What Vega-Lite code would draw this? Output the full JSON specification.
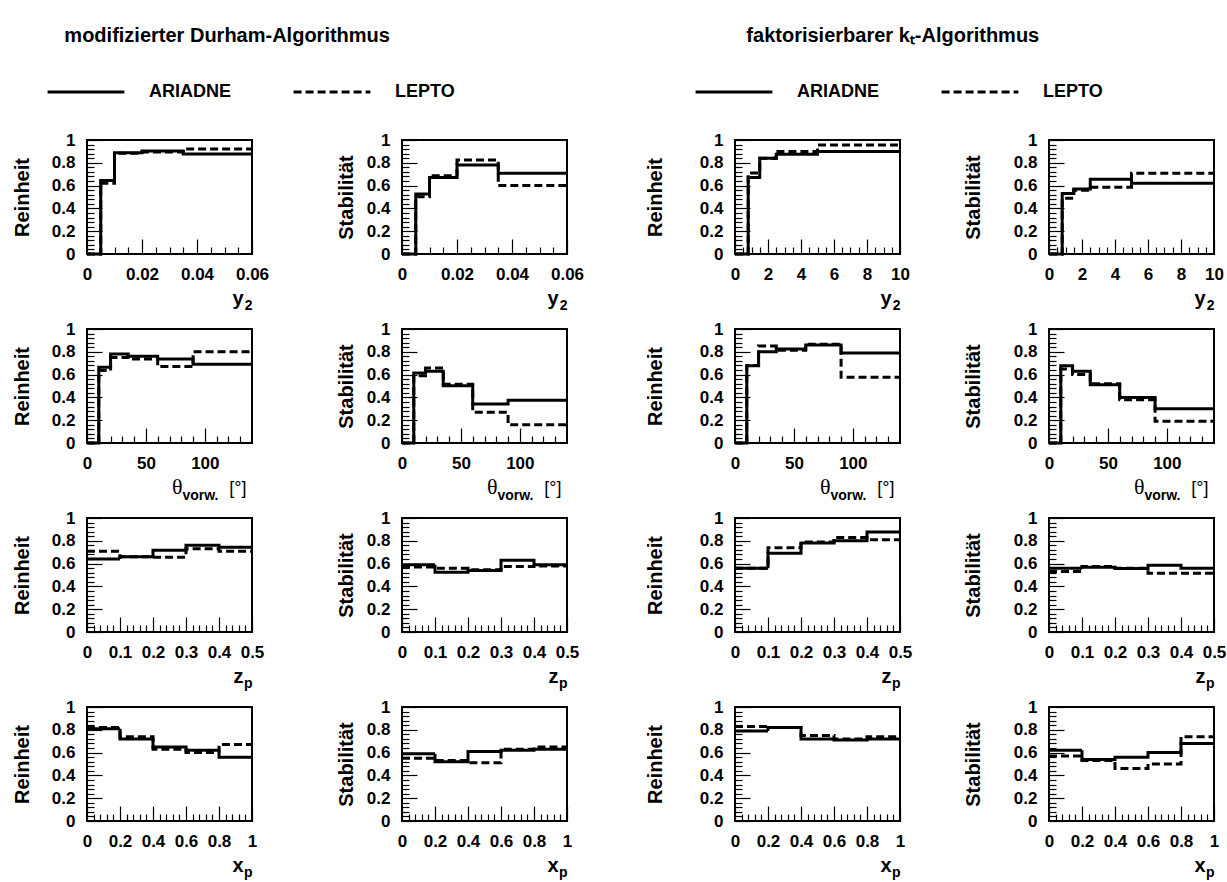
{
  "$schema": "https://vega.github.io/schema/vega-lite/v6.json",
  "padding": {"left": 11, "top": 26, "right": 4, "bottom": 0},
  "background": "white",
  "datasets": {
    "h": [
      {"p":"D_y2_R","g":"ARIADNE","x":0,"y":0},{"p":"D_y2_R","g":"ARIADNE","x":0.005,"y":0.645},{"p":"D_y2_R","g":"ARIADNE","x":0.01,"y":0.889},{"p":"D_y2_R","g":"ARIADNE","x":0.02,"y":0.903},{"p":"D_y2_R","g":"ARIADNE","x":0.035,"y":0.877},{"p":"D_y2_R","g":"ARIADNE","x":0.06,"y":0.877},
      {"p":"D_y2_R","g":"LEPTO","x":0,"y":0},{"p":"D_y2_R","g":"LEPTO","x":0.005,"y":0.62},{"p":"D_y2_R","g":"LEPTO","x":0.01,"y":0.883},{"p":"D_y2_R","g":"LEPTO","x":0.02,"y":0.895},{"p":"D_y2_R","g":"LEPTO","x":0.035,"y":0.92},{"p":"D_y2_R","g":"LEPTO","x":0.06,"y":0.92},
      {"p":"D_y2_S","g":"ARIADNE","x":0,"y":0},{"p":"D_y2_S","g":"ARIADNE","x":0.005,"y":0.526},{"p":"D_y2_S","g":"ARIADNE","x":0.01,"y":0.67},{"p":"D_y2_S","g":"ARIADNE","x":0.02,"y":0.78},{"p":"D_y2_S","g":"ARIADNE","x":0.035,"y":0.708},{"p":"D_y2_S","g":"ARIADNE","x":0.06,"y":0.708},
      {"p":"D_y2_S","g":"LEPTO","x":0,"y":0},{"p":"D_y2_S","g":"LEPTO","x":0.005,"y":0.503},{"p":"D_y2_S","g":"LEPTO","x":0.01,"y":0.687},{"p":"D_y2_S","g":"LEPTO","x":0.02,"y":0.825},{"p":"D_y2_S","g":"LEPTO","x":0.035,"y":0.6},{"p":"D_y2_S","g":"LEPTO","x":0.06,"y":0.6},
      {"p":"K_y2_R","g":"ARIADNE","x":0,"y":0},{"p":"K_y2_R","g":"ARIADNE","x":0.8,"y":0.67},{"p":"K_y2_R","g":"ARIADNE","x":1.5,"y":0.84},{"p":"K_y2_R","g":"ARIADNE","x":2.5,"y":0.874},{"p":"K_y2_R","g":"ARIADNE","x":5,"y":0.9},{"p":"K_y2_R","g":"ARIADNE","x":10,"y":0.9},
      {"p":"K_y2_R","g":"LEPTO","x":0,"y":0},{"p":"K_y2_R","g":"LEPTO","x":0.8,"y":0.71},{"p":"K_y2_R","g":"LEPTO","x":1.5,"y":0.84},{"p":"K_y2_R","g":"LEPTO","x":2.5,"y":0.9},{"p":"K_y2_R","g":"LEPTO","x":5,"y":0.956},{"p":"K_y2_R","g":"LEPTO","x":10,"y":0.956},
      {"p":"K_y2_S","g":"ARIADNE","x":0,"y":0},{"p":"K_y2_S","g":"ARIADNE","x":0.8,"y":0.53},{"p":"K_y2_S","g":"ARIADNE","x":1.5,"y":0.57},{"p":"K_y2_S","g":"ARIADNE","x":2.5,"y":0.655},{"p":"K_y2_S","g":"ARIADNE","x":5,"y":0.62},{"p":"K_y2_S","g":"ARIADNE","x":10,"y":0.62},
      {"p":"K_y2_S","g":"LEPTO","x":0,"y":0},{"p":"K_y2_S","g":"LEPTO","x":0.8,"y":0.49},{"p":"K_y2_S","g":"LEPTO","x":1.5,"y":0.56},{"p":"K_y2_S","g":"LEPTO","x":2.5,"y":0.585},{"p":"K_y2_S","g":"LEPTO","x":5,"y":0.708},{"p":"K_y2_S","g":"LEPTO","x":10,"y":0.708},
      {"p":"D_th_R","g":"ARIADNE","x":0,"y":0},{"p":"D_th_R","g":"ARIADNE","x":10,"y":0.664},{"p":"D_th_R","g":"ARIADNE","x":20,"y":0.78},{"p":"D_th_R","g":"ARIADNE","x":35,"y":0.76},{"p":"D_th_R","g":"ARIADNE","x":60,"y":0.737},{"p":"D_th_R","g":"ARIADNE","x":90,"y":0.69},{"p":"D_th_R","g":"ARIADNE","x":140,"y":0.69},
      {"p":"D_th_R","g":"LEPTO","x":0,"y":0},{"p":"D_th_R","g":"LEPTO","x":10,"y":0.635},{"p":"D_th_R","g":"LEPTO","x":20,"y":0.75},{"p":"D_th_R","g":"LEPTO","x":35,"y":0.737},{"p":"D_th_R","g":"LEPTO","x":60,"y":0.67},{"p":"D_th_R","g":"LEPTO","x":90,"y":0.8},{"p":"D_th_R","g":"LEPTO","x":140,"y":0.8},
      {"p":"D_th_S","g":"ARIADNE","x":0,"y":0},{"p":"D_th_S","g":"ARIADNE","x":10,"y":0.614},{"p":"D_th_S","g":"ARIADNE","x":20,"y":0.63},{"p":"D_th_S","g":"ARIADNE","x":35,"y":0.503},{"p":"D_th_S","g":"ARIADNE","x":60,"y":0.342},{"p":"D_th_S","g":"ARIADNE","x":90,"y":0.374},{"p":"D_th_S","g":"ARIADNE","x":140,"y":0.374},
      {"p":"D_th_S","g":"LEPTO","x":0,"y":0},{"p":"D_th_S","g":"LEPTO","x":10,"y":0.59},{"p":"D_th_S","g":"LEPTO","x":20,"y":0.658},{"p":"D_th_S","g":"LEPTO","x":35,"y":0.515},{"p":"D_th_S","g":"LEPTO","x":60,"y":0.27},{"p":"D_th_S","g":"LEPTO","x":90,"y":0.16},{"p":"D_th_S","g":"LEPTO","x":140,"y":0.16},
      {"p":"K_th_R","g":"ARIADNE","x":0,"y":0},{"p":"K_th_R","g":"ARIADNE","x":10,"y":0.678},{"p":"K_th_R","g":"ARIADNE","x":20,"y":0.8},{"p":"K_th_R","g":"ARIADNE","x":35,"y":0.825},{"p":"K_th_R","g":"ARIADNE","x":60,"y":0.86},{"p":"K_th_R","g":"ARIADNE","x":90,"y":0.79},{"p":"K_th_R","g":"ARIADNE","x":140,"y":0.79},
      {"p":"K_th_R","g":"LEPTO","x":0,"y":0},{"p":"K_th_R","g":"LEPTO","x":10,"y":0.68},{"p":"K_th_R","g":"LEPTO","x":20,"y":0.85},{"p":"K_th_R","g":"LEPTO","x":35,"y":0.813},{"p":"K_th_R","g":"LEPTO","x":60,"y":0.867},{"p":"K_th_R","g":"LEPTO","x":90,"y":0.576},{"p":"K_th_R","g":"LEPTO","x":140,"y":0.576},
      {"p":"K_th_S","g":"ARIADNE","x":0,"y":0},{"p":"K_th_S","g":"ARIADNE","x":10,"y":0.678},{"p":"K_th_S","g":"ARIADNE","x":20,"y":0.63},{"p":"K_th_S","g":"ARIADNE","x":35,"y":0.51},{"p":"K_th_S","g":"ARIADNE","x":60,"y":0.4},{"p":"K_th_S","g":"ARIADNE","x":90,"y":0.3},{"p":"K_th_S","g":"ARIADNE","x":140,"y":0.3},
      {"p":"K_th_S","g":"LEPTO","x":0,"y":0},{"p":"K_th_S","g":"LEPTO","x":10,"y":0.65},{"p":"K_th_S","g":"LEPTO","x":20,"y":0.6},{"p":"K_th_S","g":"LEPTO","x":35,"y":0.52},{"p":"K_th_S","g":"LEPTO","x":60,"y":0.38},{"p":"K_th_S","g":"LEPTO","x":90,"y":0.19},{"p":"K_th_S","g":"LEPTO","x":140,"y":0.19},
      {"p":"D_zp_R","g":"ARIADNE","x":0,"y":0.64},{"p":"D_zp_R","g":"ARIADNE","x":0.1,"y":0.66},{"p":"D_zp_R","g":"ARIADNE","x":0.2,"y":0.717},{"p":"D_zp_R","g":"ARIADNE","x":0.3,"y":0.76},{"p":"D_zp_R","g":"ARIADNE","x":0.4,"y":0.743},{"p":"D_zp_R","g":"ARIADNE","x":0.5,"y":0.743},
      {"p":"D_zp_R","g":"LEPTO","x":0,"y":0.708},{"p":"D_zp_R","g":"LEPTO","x":0.1,"y":0.66},{"p":"D_zp_R","g":"LEPTO","x":0.2,"y":0.656},{"p":"D_zp_R","g":"LEPTO","x":0.3,"y":0.73},{"p":"D_zp_R","g":"LEPTO","x":0.4,"y":0.708},{"p":"D_zp_R","g":"LEPTO","x":0.5,"y":0.708},
      {"p":"D_zp_S","g":"ARIADNE","x":0,"y":0.59},{"p":"D_zp_S","g":"ARIADNE","x":0.1,"y":0.524},{"p":"D_zp_S","g":"ARIADNE","x":0.2,"y":0.54},{"p":"D_zp_S","g":"ARIADNE","x":0.3,"y":0.63},{"p":"D_zp_S","g":"ARIADNE","x":0.4,"y":0.59},{"p":"D_zp_S","g":"ARIADNE","x":0.5,"y":0.59},
      {"p":"D_zp_S","g":"LEPTO","x":0,"y":0.57},{"p":"D_zp_S","g":"LEPTO","x":0.1,"y":0.56},{"p":"D_zp_S","g":"LEPTO","x":0.2,"y":0.545},{"p":"D_zp_S","g":"LEPTO","x":0.3,"y":0.574},{"p":"D_zp_S","g":"LEPTO","x":0.4,"y":0.58},{"p":"D_zp_S","g":"LEPTO","x":0.5,"y":0.58},
      {"p":"K_zp_R","g":"ARIADNE","x":0,"y":0.56},{"p":"K_zp_R","g":"ARIADNE","x":0.1,"y":0.69},{"p":"K_zp_R","g":"ARIADNE","x":0.2,"y":0.78},{"p":"K_zp_R","g":"ARIADNE","x":0.3,"y":0.8},{"p":"K_zp_R","g":"ARIADNE","x":0.4,"y":0.877},{"p":"K_zp_R","g":"ARIADNE","x":0.5,"y":0.877},
      {"p":"K_zp_R","g":"LEPTO","x":0,"y":0.56},{"p":"K_zp_R","g":"LEPTO","x":0.1,"y":0.74},{"p":"K_zp_R","g":"LEPTO","x":0.2,"y":0.79},{"p":"K_zp_R","g":"LEPTO","x":0.3,"y":0.83},{"p":"K_zp_R","g":"LEPTO","x":0.4,"y":0.81},{"p":"K_zp_R","g":"LEPTO","x":0.5,"y":0.81},
      {"p":"K_zp_S","g":"ARIADNE","x":0,"y":0.56},{"p":"K_zp_S","g":"ARIADNE","x":0.1,"y":0.567},{"p":"K_zp_S","g":"ARIADNE","x":0.2,"y":0.556},{"p":"K_zp_S","g":"ARIADNE","x":0.3,"y":0.585},{"p":"K_zp_S","g":"ARIADNE","x":0.4,"y":0.56},{"p":"K_zp_S","g":"ARIADNE","x":0.5,"y":0.56},
      {"p":"K_zp_S","g":"LEPTO","x":0,"y":0.53},{"p":"K_zp_S","g":"LEPTO","x":0.1,"y":0.575},{"p":"K_zp_S","g":"LEPTO","x":0.2,"y":0.56},{"p":"K_zp_S","g":"LEPTO","x":0.3,"y":0.515},{"p":"K_zp_S","g":"LEPTO","x":0.4,"y":0.515},{"p":"K_zp_S","g":"LEPTO","x":0.5,"y":0.515},
      {"p":"D_xp_R","g":"ARIADNE","x":0,"y":0.81},{"p":"D_xp_R","g":"ARIADNE","x":0.2,"y":0.72},{"p":"D_xp_R","g":"ARIADNE","x":0.4,"y":0.65},{"p":"D_xp_R","g":"ARIADNE","x":0.6,"y":0.62},{"p":"D_xp_R","g":"ARIADNE","x":0.8,"y":0.56},{"p":"D_xp_R","g":"ARIADNE","x":1,"y":0.56},
      {"p":"D_xp_R","g":"LEPTO","x":0,"y":0.82},{"p":"D_xp_R","g":"LEPTO","x":0.2,"y":0.74},{"p":"D_xp_R","g":"LEPTO","x":0.4,"y":0.63},{"p":"D_xp_R","g":"LEPTO","x":0.6,"y":0.6},{"p":"D_xp_R","g":"LEPTO","x":0.8,"y":0.67},{"p":"D_xp_R","g":"LEPTO","x":1,"y":0.67},
      {"p":"D_xp_S","g":"ARIADNE","x":0,"y":0.59},{"p":"D_xp_S","g":"ARIADNE","x":0.2,"y":0.52},{"p":"D_xp_S","g":"ARIADNE","x":0.4,"y":0.61},{"p":"D_xp_S","g":"ARIADNE","x":0.6,"y":0.62},{"p":"D_xp_S","g":"ARIADNE","x":0.8,"y":0.63},{"p":"D_xp_S","g":"ARIADNE","x":1,"y":0.63},
      {"p":"D_xp_S","g":"LEPTO","x":0,"y":0.55},{"p":"D_xp_S","g":"LEPTO","x":0.2,"y":0.53},{"p":"D_xp_S","g":"LEPTO","x":0.4,"y":0.51},{"p":"D_xp_S","g":"LEPTO","x":0.6,"y":0.63},{"p":"D_xp_S","g":"LEPTO","x":0.8,"y":0.65},{"p":"D_xp_S","g":"LEPTO","x":1,"y":0.65},
      {"p":"K_xp_R","g":"ARIADNE","x":0,"y":0.79},{"p":"K_xp_R","g":"ARIADNE","x":0.2,"y":0.82},{"p":"K_xp_R","g":"ARIADNE","x":0.4,"y":0.72},{"p":"K_xp_R","g":"ARIADNE","x":0.6,"y":0.71},{"p":"K_xp_R","g":"ARIADNE","x":0.8,"y":0.72},{"p":"K_xp_R","g":"ARIADNE","x":1,"y":0.72},
      {"p":"K_xp_R","g":"LEPTO","x":0,"y":0.83},{"p":"K_xp_R","g":"LEPTO","x":0.2,"y":0.82},{"p":"K_xp_R","g":"LEPTO","x":0.4,"y":0.75},{"p":"K_xp_R","g":"LEPTO","x":0.6,"y":0.72},{"p":"K_xp_R","g":"LEPTO","x":0.8,"y":0.74},{"p":"K_xp_R","g":"LEPTO","x":1,"y":0.74},
      {"p":"K_xp_S","g":"ARIADNE","x":0,"y":0.62},{"p":"K_xp_S","g":"ARIADNE","x":0.2,"y":0.54},{"p":"K_xp_S","g":"ARIADNE","x":0.4,"y":0.56},{"p":"K_xp_S","g":"ARIADNE","x":0.6,"y":0.6},{"p":"K_xp_S","g":"ARIADNE","x":0.8,"y":0.68},{"p":"K_xp_S","g":"ARIADNE","x":1,"y":0.68},
      {"p":"K_xp_S","g":"LEPTO","x":0,"y":0.57},{"p":"K_xp_S","g":"LEPTO","x":0.2,"y":0.53},{"p":"K_xp_S","g":"LEPTO","x":0.4,"y":0.46},{"p":"K_xp_S","g":"LEPTO","x":0.6,"y":0.5},{"p":"K_xp_S","g":"LEPTO","x":0.8,"y":0.74},{"p":"K_xp_S","g":"LEPTO","x":1,"y":0.74}
    ]
  },
  "data": {"name": "h"},
  "hconcat": [
    {
      "title": {"text": "modifizierter Durham-Algorithmus", "anchor": "start", "dx": 53, "offset": 6},
      "columns": 2,
      "spacing": {"row": 75, "column": 150},
      "bounds": "flush",
      "concat": [
        {"width":165,"height":114,"transform":[{"filter":"datum.p==='D_y2_R'"}],
         "layer":[
          {"mark":{"type":"line","interpolate":"step-after","strokeWidth":3,"color":"black"},
           "encoding":{
            "x":{"field":"x","type":"quantitative","scale":{"domain":[0,0.06],"nice":false},"axis":{"values":[0,0.02,0.04,0.06],"format":"~r","title":"y","titleX":156,"titleY":50}},
            "y":{"field":"y","type":"quantitative","scale":{"domain":[0,1],"nice":false},"axis":{"values":[0,0.2,0.4,0.6,0.8,1],"format":"~r","title":"Reinheit","titlePadding":19}},
            "strokeDash":{"field":"g","type":"nominal","scale":{"domain":["ARIADNE","LEPTO"],"range":[[1,0],[8,4]]},"legend":{"title":null}}}},
          {"mark":{"type":"point","opacity":0},
           "encoding":{
            "x":{"field":"x","type":"quantitative","axis":{"orient":"bottom","values":[0.005,0.01,0.015,0.025,0.03,0.035,0.045,0.05,0.055],"labels":false,"tickSize":-7,"title":"2","titleX":165,"titleY":55,"titleFontSize":14}},
            "y":{"field":"y","type":"quantitative","axis":{"orient":"left","values":[0.04,0.08,0.12,0.16,0.24,0.28,0.32,0.36,0.44,0.48,0.52,0.56,0.64,0.68,0.72,0.76,0.84,0.88,0.92,0.96],"labels":false,"tickSize":-7,"title":null}}}}
         ],
         "resolve":{"axis":{"x":"independent","y":"independent"}}},
        {"width":165,"height":114,"transform":[{"filter":"datum.p==='D_y2_S'"}],
         "layer":[
          {"mark":{"type":"line","interpolate":"step-after","strokeWidth":3,"color":"black"},
           "encoding":{
            "x":{"field":"x","type":"quantitative","scale":{"domain":[0,0.06],"nice":false},"axis":{"values":[0,0.02,0.04,0.06],"format":"~r","title":"y","titleX":156,"titleY":50}},
            "y":{"field":"y","type":"quantitative","scale":{"domain":[0,1],"nice":false},"axis":{"values":[0,0.2,0.4,0.6,0.8,1],"format":"~r","title":"Stabilität","titlePadding":10}},
            "strokeDash":{"field":"g","type":"nominal","scale":{"domain":["ARIADNE","LEPTO"],"range":[[1,0],[8,4]]},"legend":{"title":null}}}},
          {"mark":{"type":"point","opacity":0},
           "encoding":{
            "x":{"field":"x","type":"quantitative","axis":{"orient":"bottom","values":[0.005,0.01,0.015,0.025,0.03,0.035,0.045,0.05,0.055],"labels":false,"tickSize":-7,"title":"2","titleX":165,"titleY":55,"titleFontSize":14}},
            "y":{"field":"y","type":"quantitative","axis":{"orient":"left","values":[0.04,0.08,0.12,0.16,0.24,0.28,0.32,0.36,0.44,0.48,0.52,0.56,0.64,0.68,0.72,0.76,0.84,0.88,0.92,0.96],"labels":false,"tickSize":-7,"title":null}}}}
         ],
         "resolve":{"axis":{"x":"independent","y":"independent"}}},
        {"width":165,"height":114,"transform":[{"filter":"datum.p==='D_th_R'"}],
         "layer":[
          {"mark":{"type":"line","interpolate":"step-after","strokeWidth":3,"color":"black"},
           "encoding":{
            "x":{"field":"x","type":"quantitative","scale":{"domain":[0,140],"nice":false},"axis":{"values":[0,50,100],"format":"~r","title":"θ","titleX":95,"titleY":50,"titleFont":"Liberation Serif","titleFontWeight":"normal","titleFontSize":22}},
            "y":{"field":"y","type":"quantitative","scale":{"domain":[0,1],"nice":false},"axis":{"values":[0,0.2,0.4,0.6,0.8,1],"format":"~r","title":"Reinheit","titlePadding":19}},
            "strokeDash":{"field":"g","type":"nominal","scale":{"domain":["ARIADNE","LEPTO"],"range":[[1,0],[8,4]]},"legend":{"title":null}}}},
          {"mark":{"type":"point","opacity":0},
           "encoding":{
            "x":{"field":"x","type":"quantitative","axis":{"orient":"bottom","values":[10,20,30,40,60,70,80,90,110,120,130],"labels":false,"tickSize":-7,"title":"vorw.","titleX":131,"titleY":56,"titleFontSize":14}},
            "y":{"field":"y","type":"quantitative","axis":{"orient":"left","values":[0.04,0.08,0.12,0.16,0.24,0.28,0.32,0.36,0.44,0.48,0.52,0.56,0.64,0.68,0.72,0.76,0.84,0.88,0.92,0.96],"labels":false,"tickSize":-7,"title":null}}}},
          {"mark":{"type":"point","opacity":0},
           "encoding":{
            "x":{"field":"x","type":"quantitative","axis":{"orient":"bottom","ticks":false,"labels":false,"title":"[°]","titleX":159,"titleY":50,"titleFontWeight":"normal","titleFontSize":18}},
            "y":{"field":"y","type":"quantitative","axis":null}}}
         ],
         "resolve":{"axis":{"x":"independent","y":"independent"}}},
        {"width":165,"height":114,"transform":[{"filter":"datum.p==='D_th_S'"}],
         "layer":[
          {"mark":{"type":"line","interpolate":"step-after","strokeWidth":3,"color":"black"},
           "encoding":{
            "x":{"field":"x","type":"quantitative","scale":{"domain":[0,140],"nice":false},"axis":{"values":[0,50,100],"format":"~r","title":"θ","titleX":95,"titleY":50,"titleFont":"Liberation Serif","titleFontWeight":"normal","titleFontSize":22}},
            "y":{"field":"y","type":"quantitative","scale":{"domain":[0,1],"nice":false},"axis":{"values":[0,0.2,0.4,0.6,0.8,1],"format":"~r","title":"Stabilität","titlePadding":10}},
            "strokeDash":{"field":"g","type":"nominal","scale":{"domain":["ARIADNE","LEPTO"],"range":[[1,0],[8,4]]},"legend":{"title":null}}}},
          {"mark":{"type":"point","opacity":0},
           "encoding":{
            "x":{"field":"x","type":"quantitative","axis":{"orient":"bottom","values":[10,20,30,40,60,70,80,90,110,120,130],"labels":false,"tickSize":-7,"title":"vorw.","titleX":131,"titleY":56,"titleFontSize":14}},
            "y":{"field":"y","type":"quantitative","axis":{"orient":"left","values":[0.04,0.08,0.12,0.16,0.24,0.28,0.32,0.36,0.44,0.48,0.52,0.56,0.64,0.68,0.72,0.76,0.84,0.88,0.92,0.96],"labels":false,"tickSize":-7,"title":null}}}},
          {"mark":{"type":"point","opacity":0},
           "encoding":{
            "x":{"field":"x","type":"quantitative","axis":{"orient":"bottom","ticks":false,"labels":false,"title":"[°]","titleX":159,"titleY":50,"titleFontWeight":"normal","titleFontSize":18}},
            "y":{"field":"y","type":"quantitative","axis":null}}}
         ],
         "resolve":{"axis":{"x":"independent","y":"independent"}}},
        {"width":165,"height":114,"transform":[{"filter":"datum.p==='D_zp_R'"}],
         "layer":[
          {"mark":{"type":"line","interpolate":"step-after","strokeWidth":3,"color":"black"},
           "encoding":{
            "x":{"field":"x","type":"quantitative","scale":{"domain":[0,0.5],"nice":false},"axis":{"values":[0,0.1,0.2,0.3,0.4,0.5],"format":"~r","title":"z","titleX":156,"titleY":50}},
            "y":{"field":"y","type":"quantitative","scale":{"domain":[0,1],"nice":false},"axis":{"values":[0,0.2,0.4,0.6,0.8,1],"format":"~r","title":"Reinheit","titlePadding":19}},
            "strokeDash":{"field":"g","type":"nominal","scale":{"domain":["ARIADNE","LEPTO"],"range":[[1,0],[8,4]]},"legend":{"title":null}}}},
          {"mark":{"type":"point","opacity":0},
           "encoding":{
            "x":{"field":"x","type":"quantitative","axis":{"orient":"bottom","values":[0.02,0.04,0.06,0.08,0.12,0.14,0.16,0.18,0.22,0.24,0.26,0.28,0.32,0.34,0.36,0.38,0.42,0.44,0.46,0.48],"labels":false,"tickSize":-7,"title":"p","titleX":165,"titleY":55,"titleFontSize":14}},
            "y":{"field":"y","type":"quantitative","axis":{"orient":"left","values":[0.04,0.08,0.12,0.16,0.24,0.28,0.32,0.36,0.44,0.48,0.52,0.56,0.64,0.68,0.72,0.76,0.84,0.88,0.92,0.96],"labels":false,"tickSize":-7,"title":null}}}}
         ],
         "resolve":{"axis":{"x":"independent","y":"independent"}}},
        {"width":165,"height":114,"transform":[{"filter":"datum.p==='D_zp_S'"}],
         "layer":[
          {"mark":{"type":"line","interpolate":"step-after","strokeWidth":3,"color":"black"},
           "encoding":{
            "x":{"field":"x","type":"quantitative","scale":{"domain":[0,0.5],"nice":false},"axis":{"values":[0,0.1,0.2,0.3,0.4,0.5],"format":"~r","title":"z","titleX":156,"titleY":50}},
            "y":{"field":"y","type":"quantitative","scale":{"domain":[0,1],"nice":false},"axis":{"values":[0,0.2,0.4,0.6,0.8,1],"format":"~r","title":"Stabilität","titlePadding":10}},
            "strokeDash":{"field":"g","type":"nominal","scale":{"domain":["ARIADNE","LEPTO"],"range":[[1,0],[8,4]]},"legend":{"title":null}}}},
          {"mark":{"type":"point","opacity":0},
           "encoding":{
            "x":{"field":"x","type":"quantitative","axis":{"orient":"bottom","values":[0.02,0.04,0.06,0.08,0.12,0.14,0.16,0.18,0.22,0.24,0.26,0.28,0.32,0.34,0.36,0.38,0.42,0.44,0.46,0.48],"labels":false,"tickSize":-7,"title":"p","titleX":165,"titleY":55,"titleFontSize":14}},
            "y":{"field":"y","type":"quantitative","axis":{"orient":"left","values":[0.04,0.08,0.12,0.16,0.24,0.28,0.32,0.36,0.44,0.48,0.52,0.56,0.64,0.68,0.72,0.76,0.84,0.88,0.92,0.96],"labels":false,"tickSize":-7,"title":null}}}}
         ],
         "resolve":{"axis":{"x":"independent","y":"independent"}}},
        {"width":165,"height":114,"transform":[{"filter":"datum.p==='D_xp_R'"}],
         "layer":[
          {"mark":{"type":"line","interpolate":"step-after","strokeWidth":3,"color":"black"},
           "encoding":{
            "x":{"field":"x","type":"quantitative","scale":{"domain":[0,1],"nice":false},"axis":{"values":[0,0.2,0.4,0.6,0.8,1],"format":"~r","title":"x","titleX":156,"titleY":50}},
            "y":{"field":"y","type":"quantitative","scale":{"domain":[0,1],"nice":false},"axis":{"values":[0,0.2,0.4,0.6,0.8,1],"format":"~r","title":"Reinheit","titlePadding":19}},
            "strokeDash":{"field":"g","type":"nominal","scale":{"domain":["ARIADNE","LEPTO"],"range":[[1,0],[8,4]]},"legend":{"title":null}}}},
          {"mark":{"type":"point","opacity":0},
           "encoding":{
            "x":{"field":"x","type":"quantitative","axis":{"orient":"bottom","values":[0.04,0.08,0.12,0.16,0.24,0.28,0.32,0.36,0.44,0.48,0.52,0.56,0.64,0.68,0.72,0.76,0.84,0.88,0.92,0.96],"labels":false,"tickSize":-7,"title":"p","titleX":165,"titleY":55,"titleFontSize":14}},
            "y":{"field":"y","type":"quantitative","axis":{"orient":"left","values":[0.04,0.08,0.12,0.16,0.24,0.28,0.32,0.36,0.44,0.48,0.52,0.56,0.64,0.68,0.72,0.76,0.84,0.88,0.92,0.96],"labels":false,"tickSize":-7,"title":null}}}}
         ],
         "resolve":{"axis":{"x":"independent","y":"independent"}}},
        {"width":165,"height":114,"transform":[{"filter":"datum.p==='D_xp_S'"}],
         "layer":[
          {"mark":{"type":"line","interpolate":"step-after","strokeWidth":3,"color":"black"},
           "encoding":{
            "x":{"field":"x","type":"quantitative","scale":{"domain":[0,1],"nice":false},"axis":{"values":[0,0.2,0.4,0.6,0.8,1],"format":"~r","title":"x","titleX":156,"titleY":50}},
            "y":{"field":"y","type":"quantitative","scale":{"domain":[0,1],"nice":false},"axis":{"values":[0,0.2,0.4,0.6,0.8,1],"format":"~r","title":"Stabilität","titlePadding":10}},
            "strokeDash":{"field":"g","type":"nominal","scale":{"domain":["ARIADNE","LEPTO"],"range":[[1,0],[8,4]]},"legend":{"title":null}}}},
          {"mark":{"type":"point","opacity":0},
           "encoding":{
            "x":{"field":"x","type":"quantitative","axis":{"orient":"bottom","values":[0.04,0.08,0.12,0.16,0.24,0.28,0.32,0.36,0.44,0.48,0.52,0.56,0.64,0.68,0.72,0.76,0.84,0.88,0.92,0.96],"labels":false,"tickSize":-7,"title":"p","titleX":165,"titleY":55,"titleFontSize":14}},
            "y":{"field":"y","type":"quantitative","axis":{"orient":"left","values":[0.04,0.08,0.12,0.16,0.24,0.28,0.32,0.36,0.44,0.48,0.52,0.56,0.64,0.68,0.72,0.76,0.84,0.88,0.92,0.96],"labels":false,"tickSize":-7,"title":null}}}}
         ],
         "resolve":{"axis":{"x":"independent","y":"independent"}}}
      ]
    },
    {
      "title": {"text": "faktorisierbarer kₜ-Algorithmus", "anchor": "start", "dx": 102, "offset": 6},
      "columns": 2,
      "spacing": {"row": 75, "column": 149},
      "bounds": "flush",
      "concat": [
        {"width":165,"height":114,"transform":[{"filter":"datum.p==='K_y2_R'"}],
         "layer":[
          {"mark":{"type":"line","interpolate":"step-after","strokeWidth":3,"color":"black"},
           "encoding":{
            "x":{"field":"x","type":"quantitative","scale":{"domain":[0,10],"nice":false},"axis":{"values":[0,2,4,6,8,10],"format":"~r","title":"y","titleX":156,"titleY":50}},
            "y":{"field":"y","type":"quantitative","scale":{"domain":[0,1],"nice":false},"axis":{"values":[0,0.2,0.4,0.6,0.8,1],"format":"~r","title":"Reinheit","titlePadding":34}},
            "strokeDash":{"field":"g","type":"nominal","scale":{"domain":["ARIADNE","LEPTO"],"range":[[1,0],[8,4]]},"legend":{"title":null}}}},
          {"mark":{"type":"point","opacity":0},
           "encoding":{
            "x":{"field":"x","type":"quantitative","axis":{"orient":"bottom","values":[0.5,1,1.5,2.5,3,3.5,4.5,5,5.5,6.5,7,7.5,8.5,9,9.5],"labels":false,"tickSize":-7,"title":"2","titleX":165,"titleY":55,"titleFontSize":14}},
            "y":{"field":"y","type":"quantitative","axis":{"orient":"left","values":[0.04,0.08,0.12,0.16,0.24,0.28,0.32,0.36,0.44,0.48,0.52,0.56,0.64,0.68,0.72,0.76,0.84,0.88,0.92,0.96],"labels":false,"tickSize":-7,"title":null}}}}
         ],
         "resolve":{"axis":{"x":"independent","y":"independent"}}},
        {"width":165,"height":114,"transform":[{"filter":"datum.p==='K_y2_S'"}],
         "layer":[
          {"mark":{"type":"line","interpolate":"step-after","strokeWidth":3,"color":"black"},
           "encoding":{
            "x":{"field":"x","type":"quantitative","scale":{"domain":[0,10],"nice":false},"axis":{"values":[0,2,4,6,8,10],"format":"~r","title":"y","titleX":156,"titleY":50}},
            "y":{"field":"y","type":"quantitative","scale":{"domain":[0,1],"nice":false},"axis":{"values":[0,0.2,0.4,0.6,0.8,1],"format":"~r","title":"Stabilität","titlePadding":30}},
            "strokeDash":{"field":"g","type":"nominal","scale":{"domain":["ARIADNE","LEPTO"],"range":[[1,0],[8,4]]},"legend":{"title":null}}}},
          {"mark":{"type":"point","opacity":0},
           "encoding":{
            "x":{"field":"x","type":"quantitative","axis":{"orient":"bottom","values":[0.5,1,1.5,2.5,3,3.5,4.5,5,5.5,6.5,7,7.5,8.5,9,9.5],"labels":false,"tickSize":-7,"title":"2","titleX":165,"titleY":55,"titleFontSize":14}},
            "y":{"field":"y","type":"quantitative","axis":{"orient":"left","values":[0.04,0.08,0.12,0.16,0.24,0.28,0.32,0.36,0.44,0.48,0.52,0.56,0.64,0.68,0.72,0.76,0.84,0.88,0.92,0.96],"labels":false,"tickSize":-7,"title":null}}}}
         ],
         "resolve":{"axis":{"x":"independent","y":"independent"}}},
        {"width":165,"height":114,"transform":[{"filter":"datum.p==='K_th_R'"}],
         "layer":[
          {"mark":{"type":"line","interpolate":"step-after","strokeWidth":3,"color":"black"},
           "encoding":{
            "x":{"field":"x","type":"quantitative","scale":{"domain":[0,140],"nice":false},"axis":{"values":[0,50,100],"format":"~r","title":"θ","titleX":95,"titleY":50,"titleFont":"Liberation Serif","titleFontWeight":"normal","titleFontSize":22}},
            "y":{"field":"y","type":"quantitative","scale":{"domain":[0,1],"nice":false},"axis":{"values":[0,0.2,0.4,0.6,0.8,1],"format":"~r","title":"Reinheit","titlePadding":34}},
            "strokeDash":{"field":"g","type":"nominal","scale":{"domain":["ARIADNE","LEPTO"],"range":[[1,0],[8,4]]},"legend":{"title":null}}}},
          {"mark":{"type":"point","opacity":0},
           "encoding":{
            "x":{"field":"x","type":"quantitative","axis":{"orient":"bottom","values":[10,20,30,40,60,70,80,90,110,120,130],"labels":false,"tickSize":-7,"title":"vorw.","titleX":131,"titleY":56,"titleFontSize":14}},
            "y":{"field":"y","type":"quantitative","axis":{"orient":"left","values":[0.04,0.08,0.12,0.16,0.24,0.28,0.32,0.36,0.44,0.48,0.52,0.56,0.64,0.68,0.72,0.76,0.84,0.88,0.92,0.96],"labels":false,"tickSize":-7,"title":null}}}},
          {"mark":{"type":"point","opacity":0},
           "encoding":{
            "x":{"field":"x","type":"quantitative","axis":{"orient":"bottom","ticks":false,"labels":false,"title":"[°]","titleX":159,"titleY":50,"titleFontWeight":"normal","titleFontSize":18}},
            "y":{"field":"y","type":"quantitative","axis":null}}}
         ],
         "resolve":{"axis":{"x":"independent","y":"independent"}}},
        {"width":165,"height":114,"transform":[{"filter":"datum.p==='K_th_S'"}],
         "layer":[
          {"mark":{"type":"line","interpolate":"step-after","strokeWidth":3,"color":"black"},
           "encoding":{
            "x":{"field":"x","type":"quantitative","scale":{"domain":[0,140],"nice":false},"axis":{"values":[0,50,100],"format":"~r","title":"θ","titleX":95,"titleY":50,"titleFont":"Liberation Serif","titleFontWeight":"normal","titleFontSize":22}},
            "y":{"field":"y","type":"quantitative","scale":{"domain":[0,1],"nice":false},"axis":{"values":[0,0.2,0.4,0.6,0.8,1],"format":"~r","title":"Stabilität","titlePadding":30}},
            "strokeDash":{"field":"g","type":"nominal","scale":{"domain":["ARIADNE","LEPTO"],"range":[[1,0],[8,4]]},"legend":{"title":null}}}},
          {"mark":{"type":"point","opacity":0},
           "encoding":{
            "x":{"field":"x","type":"quantitative","axis":{"orient":"bottom","values":[10,20,30,40,60,70,80,90,110,120,130],"labels":false,"tickSize":-7,"title":"vorw.","titleX":131,"titleY":56,"titleFontSize":14}},
            "y":{"field":"y","type":"quantitative","axis":{"orient":"left","values":[0.04,0.08,0.12,0.16,0.24,0.28,0.32,0.36,0.44,0.48,0.52,0.56,0.64,0.68,0.72,0.76,0.84,0.88,0.92,0.96],"labels":false,"tickSize":-7,"title":null}}}},
          {"mark":{"type":"point","opacity":0},
           "encoding":{
            "x":{"field":"x","type":"quantitative","axis":{"orient":"bottom","ticks":false,"labels":false,"title":"[°]","titleX":159,"titleY":50,"titleFontWeight":"normal","titleFontSize":18}},
            "y":{"field":"y","type":"quantitative","axis":null}}}
         ],
         "resolve":{"axis":{"x":"independent","y":"independent"}}},
        {"width":165,"height":114,"transform":[{"filter":"datum.p==='K_zp_R'"}],
         "layer":[
          {"mark":{"type":"line","interpolate":"step-after","strokeWidth":3,"color":"black"},
           "encoding":{
            "x":{"field":"x","type":"quantitative","scale":{"domain":[0,0.5],"nice":false},"axis":{"values":[0,0.1,0.2,0.3,0.4,0.5],"format":"~r","title":"z","titleX":156,"titleY":50}},
            "y":{"field":"y","type":"quantitative","scale":{"domain":[0,1],"nice":false},"axis":{"values":[0,0.2,0.4,0.6,0.8,1],"format":"~r","title":"Reinheit","titlePadding":34}},
            "strokeDash":{"field":"g","type":"nominal","scale":{"domain":["ARIADNE","LEPTO"],"range":[[1,0],[8,4]]},"legend":{"title":null}}}},
          {"mark":{"type":"point","opacity":0},
           "encoding":{
            "x":{"field":"x","type":"quantitative","axis":{"orient":"bottom","values":[0.02,0.04,0.06,0.08,0.12,0.14,0.16,0.18,0.22,0.24,0.26,0.28,0.32,0.34,0.36,0.38,0.42,0.44,0.46,0.48],"labels":false,"tickSize":-7,"title":"p","titleX":165,"titleY":55,"titleFontSize":14}},
            "y":{"field":"y","type":"quantitative","axis":{"orient":"left","values":[0.04,0.08,0.12,0.16,0.24,0.28,0.32,0.36,0.44,0.48,0.52,0.56,0.64,0.68,0.72,0.76,0.84,0.88,0.92,0.96],"labels":false,"tickSize":-7,"title":null}}}}
         ],
         "resolve":{"axis":{"x":"independent","y":"independent"}}},
        {"width":165,"height":114,"transform":[{"filter":"datum.p==='K_zp_S'"}],
         "layer":[
          {"mark":{"type":"line","interpolate":"step-after","strokeWidth":3,"color":"black"},
           "encoding":{
            "x":{"field":"x","type":"quantitative","scale":{"domain":[0,0.5],"nice":false},"axis":{"values":[0,0.1,0.2,0.3,0.4,0.5],"format":"~r","title":"z","titleX":156,"titleY":50}},
            "y":{"field":"y","type":"quantitative","scale":{"domain":[0,1],"nice":false},"axis":{"values":[0,0.2,0.4,0.6,0.8,1],"format":"~r","title":"Stabilität","titlePadding":30}},
            "strokeDash":{"field":"g","type":"nominal","scale":{"domain":["ARIADNE","LEPTO"],"range":[[1,0],[8,4]]},"legend":{"title":null}}}},
          {"mark":{"type":"point","opacity":0},
           "encoding":{
            "x":{"field":"x","type":"quantitative","axis":{"orient":"bottom","values":[0.02,0.04,0.06,0.08,0.12,0.14,0.16,0.18,0.22,0.24,0.26,0.28,0.32,0.34,0.36,0.38,0.42,0.44,0.46,0.48],"labels":false,"tickSize":-7,"title":"p","titleX":165,"titleY":55,"titleFontSize":14}},
            "y":{"field":"y","type":"quantitative","axis":{"orient":"left","values":[0.04,0.08,0.12,0.16,0.24,0.28,0.32,0.36,0.44,0.48,0.52,0.56,0.64,0.68,0.72,0.76,0.84,0.88,0.92,0.96],"labels":false,"tickSize":-7,"title":null}}}}
         ],
         "resolve":{"axis":{"x":"independent","y":"independent"}}},
        {"width":165,"height":114,"transform":[{"filter":"datum.p==='K_xp_R'"}],
         "layer":[
          {"mark":{"type":"line","interpolate":"step-after","strokeWidth":3,"color":"black"},
           "encoding":{
            "x":{"field":"x","type":"quantitative","scale":{"domain":[0,1],"nice":false},"axis":{"values":[0,0.2,0.4,0.6,0.8,1],"format":"~r","title":"x","titleX":156,"titleY":50}},
            "y":{"field":"y","type":"quantitative","scale":{"domain":[0,1],"nice":false},"axis":{"values":[0,0.2,0.4,0.6,0.8,1],"format":"~r","title":"Reinheit","titlePadding":34}},
            "strokeDash":{"field":"g","type":"nominal","scale":{"domain":["ARIADNE","LEPTO"],"range":[[1,0],[8,4]]},"legend":{"title":null}}}},
          {"mark":{"type":"point","opacity":0},
           "encoding":{
            "x":{"field":"x","type":"quantitative","axis":{"orient":"bottom","values":[0.04,0.08,0.12,0.16,0.24,0.28,0.32,0.36,0.44,0.48,0.52,0.56,0.64,0.68,0.72,0.76,0.84,0.88,0.92,0.96],"labels":false,"tickSize":-7,"title":"p","titleX":165,"titleY":55,"titleFontSize":14}},
            "y":{"field":"y","type":"quantitative","axis":{"orient":"left","values":[0.04,0.08,0.12,0.16,0.24,0.28,0.32,0.36,0.44,0.48,0.52,0.56,0.64,0.68,0.72,0.76,0.84,0.88,0.92,0.96],"labels":false,"tickSize":-7,"title":null}}}}
         ],
         "resolve":{"axis":{"x":"independent","y":"independent"}}},
        {"width":165,"height":114,"transform":[{"filter":"datum.p==='K_xp_S'"}],
         "layer":[
          {"mark":{"type":"line","interpolate":"step-after","strokeWidth":3,"color":"black"},
           "encoding":{
            "x":{"field":"x","type":"quantitative","scale":{"domain":[0,1],"nice":false},"axis":{"values":[0,0.2,0.4,0.6,0.8,1],"format":"~r","title":"x","titleX":156,"titleY":50}},
            "y":{"field":"y","type":"quantitative","scale":{"domain":[0,1],"nice":false},"axis":{"values":[0,0.2,0.4,0.6,0.8,1],"format":"~r","title":"Stabilität","titlePadding":30}},
            "strokeDash":{"field":"g","type":"nominal","scale":{"domain":["ARIADNE","LEPTO"],"range":[[1,0],[8,4]]},"legend":{"title":null}}}},
          {"mark":{"type":"point","opacity":0},
           "encoding":{
            "x":{"field":"x","type":"quantitative","axis":{"orient":"bottom","values":[0.04,0.08,0.12,0.16,0.24,0.28,0.32,0.36,0.44,0.48,0.52,0.56,0.64,0.68,0.72,0.76,0.84,0.88,0.92,0.96],"labels":false,"tickSize":-7,"title":"p","titleX":165,"titleY":55,"titleFontSize":14}},
            "y":{"field":"y","type":"quantitative","axis":{"orient":"left","values":[0.04,0.08,0.12,0.16,0.24,0.28,0.32,0.36,0.44,0.48,0.52,0.56,0.64,0.68,0.72,0.76,0.84,0.88,0.92,0.96],"labels":false,"tickSize":-7,"title":null}}}}
         ],
         "resolve":{"axis":{"x":"independent","y":"independent"}}}
      ]
    }
  ],
  "spacing": 59,
  "resolve": {"scale": {"strokeDash": "independent"}, "legend": {"strokeDash": "independent"}},
  "config": {
    "font": "Liberation Sans",
    "view": {"stroke": "black", "strokeWidth": 2},
    "axis": {
      "grid": false, "domain": false,
      "tickColor": "black", "tickWidth": 1.2, "tickSize": -15,
      "labelFlush": false, "labelOverlap": false,
      "labelFont": "Liberation Sans", "labelFontWeight": "bold", "labelFontSize": 17, "labelColor": "black",
      "titleFont": "Liberation Sans", "titleFontWeight": "bold", "titleFontSize": 20, "titleColor": "black"
    },
    "axisX": {"titleAlign": "right", "titleBaseline": "alphabetic", "labelPadding": 27},
    "axisY": {"labelPadding": 27},
    "legend": {
      "orient": "none", "legendX": -41, "legendY": -88, "direction": "horizontal",
      "symbolType": "stroke", "symbolSize": 5900, "symbolStrokeWidth": 3, "symbolStrokeColor": "black",
      "labelFont": "Liberation Sans", "labelFontWeight": "bold", "labelFontSize": 18, "labelColor": "black",
      "labelOffset": 23, "columnPadding": 55
    },
    "title": {"font": "Liberation Sans", "fontWeight": "bold", "fontSize": 20, "color": "black"}
  }
}
